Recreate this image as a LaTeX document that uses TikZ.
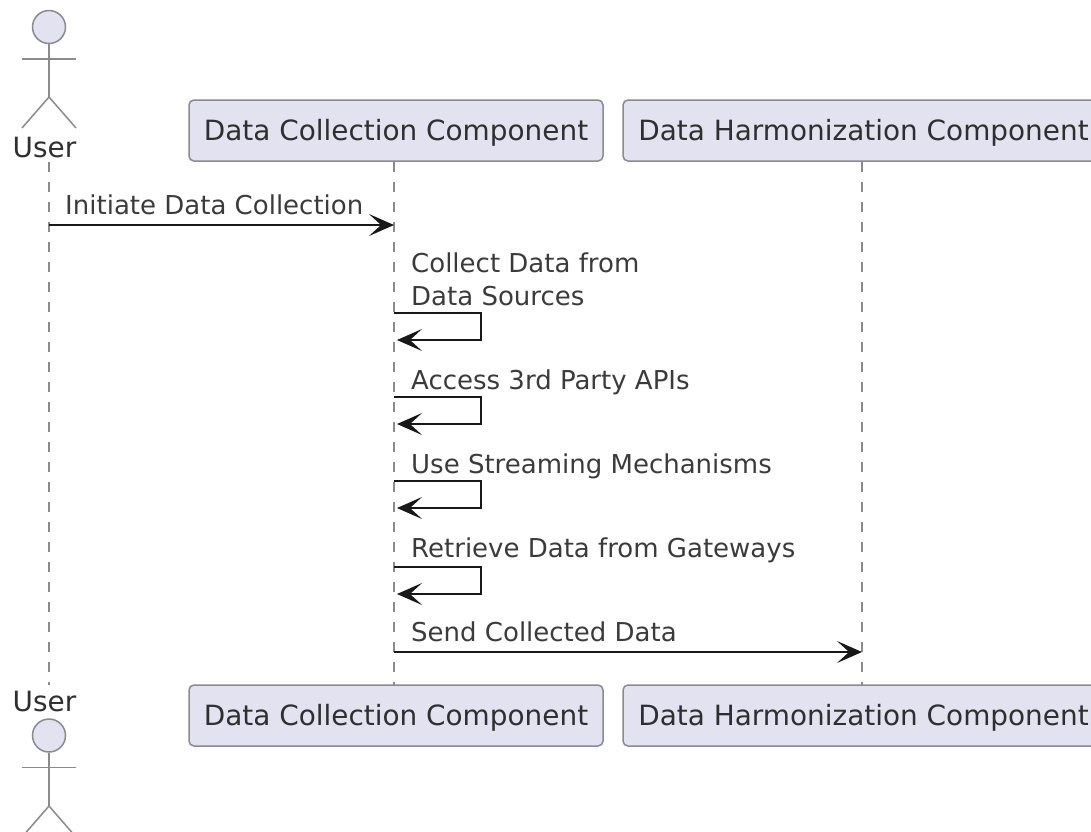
\documentclass[tikz,border=0pt]{standalone}
\usepackage{fontspec}
\setmainfont{DejaVu Sans}
\usetikzlibrary{positioning,arrows.meta}
\definecolor{boxfill}{HTML}{E2E2F0}
\definecolor{boxline}{HTML}{8A8A8F}
\definecolor{inkline}{HTML}{181818}
\tikzset{line/.style={draw=inkline, line width=1.7pt, -{Stealth[length=25pt, width=22pt, inset=12pt]}}}

\begin{document}
\begin{tikzpicture}[x=1pt,y=-1pt]
\tikzstyle{block} = [rectangle, rounded corners=5pt, draw=boxline, fill=boxfill, line width=1.5pt, minimum height=61pt, text height=21.5pt, text depth=2pt, text=inkline!90, font=\fontsize{27.9}{32}\selectfont, inner sep=0pt]
\tikzstyle{msg} = [inner sep=0pt, anchor=base west, text=inkline!85, font=\fontsize{26}{30}\selectfont]
\tikzstyle{lifeline} = [draw=boxline, line width=1.5pt, dash pattern=on 10pt off 10pt]
\tikzstyle{actorhead} = [circle, draw=boxline, fill=boxfill, line width=1.5pt, minimum size=33pt, inner sep=0pt]
\tikzstyle{actorlimb} = [draw=boxline, line width=1.5pt]
\tikzstyle{actorname} = [inner sep=0pt, text=inkline!90, font=\fontsize{27.9}{32}\selectfont]
\clip (0,0) rectangle (1091,831);
\useasboundingbox (0,0) rectangle (1091,831);

% lifeline ends
    \coordinate (user top) at (49,162);
    \coordinate (user bottom) at (49,685);
    \coordinate (collect top) at (394,162);
    \coordinate (collect bottom) at (394,685);
    \coordinate (harmon top) at (862,162);
    \coordinate (harmon bottom) at (862,685);
% lifelines
    \path [lifeline] (user top) -- (user bottom);
    \path [lifeline] (collect top) -- (collect bottom);
    \path [lifeline] (harmon top) -- (harmon bottom);
% blocks
    % top row
    \node [block, minimum width=414pt] (collect) at (396,130.5) {Data Collection Component};
    \node [block, minimum width=481pt, right=18.5pt of collect] (harmon) {Data Harmonization Component};
    % bottom row
    \node [block, minimum width=414pt] (collect2) at (396,715.5) {Data Collection Component};
    \node [block, minimum width=481pt, right=18.5pt of collect2] (harmon2) {Data Harmonization Component};
% actors
    % top
    \node [actorhead] (head) at (49,27) {};
    \coordinate (hip) at (49,97);
    \coordinate (arm left) at (22,59);
    \coordinate (arm right) at (76,59);
    \coordinate (foot left) at (22,128);
    \coordinate (foot right) at (76,128);
    \path [actorlimb] (head.south) -- (hip);
    \path [actorlimb] (arm left) -- (arm right);
    \path [actorlimb] (foot left) -- (hip) -- (foot right);
    \node [actorname] (user) at (44.5,147.5) {User};
    % bottom
    \node [actorname] (user2) at (44.5,701.5) {User};
    \node [actorhead] (head2) at (49,735.5) {};
    \coordinate (hip2) at (49,806);
    \coordinate (arm left2) at (22,767.5);
    \coordinate (arm right2) at (76,767.5);
    \coordinate (foot left2) at (22,837);
    \coordinate (foot right2) at (76,837);
    \path [actorlimb] (head2.south) -- (hip2);
    \path [actorlimb] (arm left2) -- (arm right2);
    \path [actorlimb] (foot left2) -- (hip2) -- (foot right2);
% labels
    \node [msg] (initiate) at (65,214) {Initiate Data Collection};
    \node [msg] (gather) at (411,272) {Collect Data from};
    \node [msg] (gather2) at (411,305) {Data Sources};
    \node [msg] (access) at (411,389) {Access 3rd Party APIs};
    \node [msg] (stream) at (411,473) {Use Streaming Mechanisms};
    \node [msg] (retrieve) at (411,557) {Retrieve Data from Gateways};
    \node [msg] (send) at (411,641) {Send Collected Data};
% arrows
    \coordinate (initiate start) at (49,225);
    \coordinate (initiate end) at (394,225);
    \path [line] (initiate start) -- (initiate end);
    % self calls
    \coordinate (gather start) at (394,313);
    \coordinate (gather end) at (397,340);
    \path [line] (gather start) -- ++(87,0) -- ++(0,27) -- (gather end);
    \coordinate (access start) at (394,397);
    \coordinate (access end) at (397,424);
    \path [line] (access start) -- ++(87,0) -- ++(0,27) -- (access end);
    \coordinate (stream start) at (394,481);
    \coordinate (stream end) at (397,508);
    \path [line] (stream start) -- ++(87,0) -- ++(0,27) -- (stream end);
    \coordinate (retrieve start) at (394,567);
    \coordinate (retrieve end) at (397,594);
    \path [line] (retrieve start) -- ++(87,0) -- ++(0,27) -- (retrieve end);
    % send
    \coordinate (send start) at (394,652);
    \coordinate (send end) at (862,652);
    \path [line] (send start) -- (send end);
\end{tikzpicture}
\end{document}
